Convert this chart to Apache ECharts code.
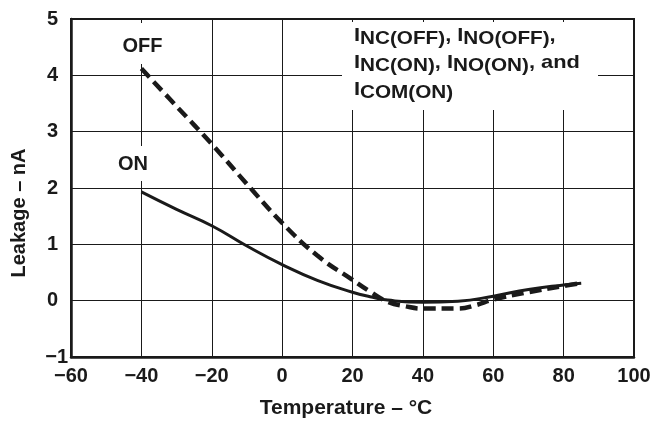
<!DOCTYPE html>
<html><head><meta charset="utf-8">
<script src="https://cdn.jsdelivr.net/npm/echarts@6/dist/echarts.min.js"></script>
<style>html,body{margin:0;padding:0;background:#fff}#c{width:654px;height:424px}</style>
</head><body><div id="c"></div>
<script>
// ---- data ----
const onTemps  = [-40, -30, -20, -10, 0, 10, 20, 25, 30, 40, 50, 60, 70, 80, 85];
const onLeak   = [1.93, 1.62, 1.33, 0.97, 0.64, 0.36, 0.15, 0.07, 0.01, -0.03, -0.01, 0.08, 0.2, 0.28, 0.31];
const offTemps = [-40, -30, -20, -10, 0, 10, 20, 25, 30, 35, 40, 50, 55, 60, 70, 80, 85];
const offLeak  = [4.12, 3.45, 2.78, 2.07, 1.38, 0.8, 0.37, 0.16, -0.02, -0.1, -0.14, -0.14, -0.08, 0.02, 0.15, 0.26, 0.31];
const xTickValues = [-60, -40, -20, 0, 20, 40, 60, 80, 100];
const xTickLabels = ['−60', '−40', '−20', '0', '20', '40', '60', '80', '100'];
const yTickValues = [-1, 0, 1, 2, 3, 4, 5];
const yTickLabels = ['−1', '0', '1', '2', '3', '4', '5'];
const xName = 'Temperature – °C';
const yName = 'Leakage – nA';
const curveLabels = ['OFF', 'ON'];
const noteLines = [
  '{i|I}{s|NC(OFF)}{i|, I}{s|NO(OFF)}{i|,}',
  '{i|I}{s|NC(ON)}{i|, I}{s|NO(ON)}{i|, and}',
  '{i|I}{s|COM(ON)}'
];

const FONT = "'Liberation Sans', Arial, Helvetica, sans-serif";
const INK = '#1a1a1a';
const zip = (xs, ys) => xs.map((x, i) => [x, ys[i]]);

const chart = echarts.init(document.getElementById('c'), null, {renderer: 'canvas'});
const richNote = {
  i: {fontSize: 19, fontWeight: 'bold', fontFamily: FONT, fill: INK, color: INK, lineHeight: 21, verticalAlign: 'top'},
  s: {fontSize: 18, fontWeight: 'bold', fontFamily: FONT, fill: INK, color: INK, lineHeight: 21, padding: [4, 0, 0, 0], verticalAlign: 'top'}
};
const noteTops = [26, 53, 80];

chart.setOption({
  animation: false,
  backgroundColor: '#fff',
  grid: {left: 71, right: 20, top: 19, bottom: 63, show: true, borderColor: INK, borderWidth: 2, backgroundColor: 'transparent'},
  xAxis: {
    type: 'value', min: -60, max: 100, interval: 20,
    name: xName, nameLocation: 'middle', nameGap: 41,
    nameTextStyle: {fontSize: 21, fontWeight: 'bold', fontFamily: FONT, color: INK, padding: [0, 13, 0, 0]},
    axisLine: {show: true, onZero: false, lineStyle: {color: INK, width: 2.5}},
    axisTick: {show: false},
    splitLine: {show: true, lineStyle: {color: INK, width: 1}},
    axisLabel: {
      margin: 9, fontSize: 20, fontWeight: 'bold', fontFamily: FONT, color: INK,
      formatter: v => { const k = xTickValues.indexOf(v); return k >= 0 ? xTickLabels[k] : ''; }
    }
  },
  yAxis: {
    type: 'value', min: -1, max: 5, interval: 1,
    name: yName, nameLocation: 'middle', nameGap: 42,
    nameTextStyle: {fontSize: 20, fontWeight: 'bold', fontFamily: FONT, color: INK, padding: [0, 50, 0, 0]},
    axisLine: {show: true, onZero: false, lineStyle: {color: INK, width: 2.5}},
    axisTick: {show: false},
    splitLine: {show: true, lineStyle: {color: INK, width: 1}},
    axisLabel: {
      margin: 3, fontSize: 20, fontWeight: 'bold', fontFamily: FONT, color: INK,
      formatter: v => {
        const k = yTickValues.indexOf(v); if (k < 0) return '';
        return v < 0 ? '{n|' + yTickLabels[k] + '}' : '{p|' + yTickLabels[k] + '}';
      },
      rich: {
        n: {fontSize: 20, fontWeight: 'bold', fontFamily: FONT, color: INK},
        p: {fontSize: 20, fontWeight: 'bold', fontFamily: FONT, color: INK, padding: [0, 10, 0, 0]}
      }
    }
  },
  series: [
    {
      name: 'OFF', type: 'line', data: zip(offTemps, offLeak), smooth: 0.45, showSymbol: false, z: 5,
      lineStyle: {color: INK, width: 4.5, type: [12, 6], cap: 'butt'}
    },
    {
      name: 'ON', type: 'line', data: zip(onTemps, onLeak), smooth: 0.5, showSymbol: false, z: 4,
      lineStyle: {color: INK, width: 3}
    }
  ],
  graphic: [
    {type: 'rect', z: 50, shape: {x: 342, y: 22, width: 256, height: 88}, style: {fill: '#fff'}},
    {type: 'rect', z: 50, shape: {x: 118, y: 23, width: 50, height: 41}, style: {fill: '#fff'}},
    {type: 'rect', z: 50, shape: {x: 114, y: 146, width: 40, height: 35}, style: {fill: '#fff'}},
    {type: 'text', z: 60, style: {text: curveLabels[0], x: 142.5, y: 46, align: 'center', verticalAlign: 'middle',
      fontSize: 20, fontWeight: 'bold', fontFamily: FONT, fill: INK}},
    {type: 'text', z: 60, style: {text: curveLabels[1], x: 133, y: 164.5, align: 'center', verticalAlign: 'middle',
      fontSize: 20, fontWeight: 'bold', fontFamily: FONT, fill: INK}}
  ].concat(noteLines.map((t, k) => ({
    type: 'text', z: 60, x: 354, y: noteTops[k], scaleX: 1.15,
    style: {text: t, x: 0, y: 0, align: 'left', verticalAlign: 'top', fontSize: 19, fontWeight: 'bold', fontFamily: FONT, fill: INK, rich: richNote}
  })))
});
</script>
</body></html>
